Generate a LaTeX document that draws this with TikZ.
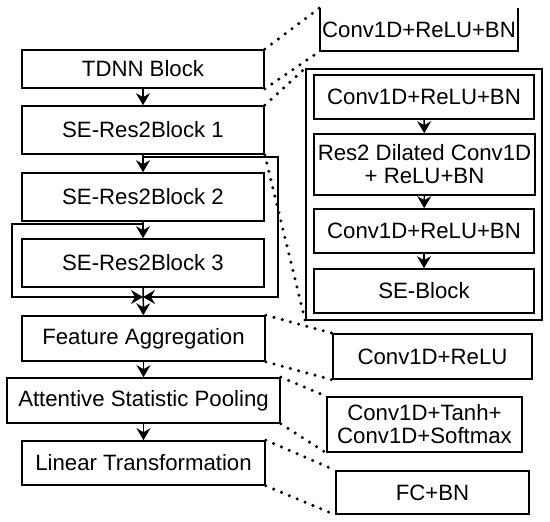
\documentclass[tikz,border=0pt]{standalone}
\usepackage{fontspec}
\setmainfont{Liberation Sans}
\usetikzlibrary{arrows.meta}
\begin{document}
\begin{tikzpicture}[x=1pt,y=-1pt,
  box/.style={draw=black,line width=1.6pt,inner sep=0pt,align=center,
    font=\fontsize{22.2}{26}\selectfont},
  plain/.style={inner sep=0pt,align=center,font=\fontsize{22.2}{26}\selectfont},
  arr/.style={line width=1.5pt,-{Stealth[length=12pt,width=14pt,inset=4pt]}},
  skipline/.style={line width=1.5pt,-{Stealth[length=12pt,width=14pt,inset=4pt]}},
  dots/.style={line width=3.4pt,line cap=round,dash pattern=on 0pt off 8.5pt},
  frame/.style={line width=1.6pt}]
\useasboundingbox (0,0) rectangle (550,522);
% left column
\node[box,minimum width=242pt,minimum height=38pt] (tdnn) at (143,69) {TDNN Block};
\node[box,minimum width=242pt,minimum height=48pt] (b1) at (143,130) {SE-Res2Block 1};
\node[box,minimum width=242pt,minimum height=48pt] (b2) at (143,197) {SE-Res2Block 2};
\node[box,minimum width=242pt,minimum height=48pt] (b3) at (143,263) {SE-Res2Block 3};
\node[box,minimum width=243pt,minimum height=45pt] (fa) at (143.5,338.5) {Feature Aggregation};
\node[box,minimum width=273pt,minimum height=45pt] (asp) at (143.5,400.5) {Attentive Statistic Pooling};
\node[box,minimum width=243pt,minimum height=44pt] (lt) at (143.5,463) {Linear Transformation};
\coordinate (sum) at (143,297);
% right column
\node[plain,minimum width=198pt,minimum height=43pt] (topconv) at (419,29.5) {Conv1D+ReLU+BN};
\draw[frame] (topconv.north west) -- (topconv.south west) -- (topconv.south east) -- (topconv.north east);
\node[box,minimum width=236pt,minimum height=251pt] (outer) at (424,194.5) {};
\node[box,minimum width=220pt,minimum height=44pt] (r1) at (424,97) {Conv1D+ReLU+BN};
\node[box,minimum width=221pt,minimum height=61pt] (r2) at (424.5,164.5) {Res2 Dilated Conv1D\\[-3pt]+ ReLU+BN};
\node[box,minimum width=220pt,minimum height=44pt] (r3) at (424,231) {Conv1D+ReLU+BN};
\node[box,minimum width=220pt,minimum height=44pt] (r4) at (424,291) {SE-Block};
\node[box,minimum width=199pt,minimum height=45pt] (cr) at (432.5,356.5) {Conv1D+ReLU};
\node[box,minimum width=195pt,minimum height=55pt] (ct) at (424.5,424.5) {Conv1D+Tanh+\\[-3pt]Conv1D+Softmax};
\node[box,minimum width=193pt,minimum height=43pt] (fc) at (432.5,492.5) {FC+BN};
% main arrows
\draw[arr] (tdnn) -- (b1);
\draw[arr] (b1) -- (b2);
\draw[arr] (b2) -- (b3);
\draw[arr] (b3) -- (fa);
\draw[arr] (fa) -- (asp);
\draw[arr] (asp) -- (lt);
\draw[arr] (r1) -- (r2);
\draw[arr] (r2) -- (r3);
\draw[arr] (r3) -- (r4);
% skip connections
\draw[skipline] ([yshift=-2pt]b1.south) -- ++(135,0) |- (sum);
\draw[skipline] ([yshift=-2pt]b2.south) -- ++(-131,0) |- (sum);
% dotted links
\draw[dots] (tdnn.north east) -- (topconv.north west);
\draw[dots] (tdnn.south east) -- (topconv.south west);
\draw[dots] (b1.north east) -- (outer.north west);
\draw[dots] (b1.south east) -- (outer.south west);
\draw[dots] (fa.north east) -- (cr.north west);
\draw[dots] (fa.south east) -- (cr.south west);
\draw[dots] (asp.north east) -- (ct.north west);
\draw[dots] (asp.south east) -- (ct.south west);
\draw[dots] (lt.north east) -- (fc.north west);
\draw[dots] (lt.south east) -- (fc.south west);
\end{tikzpicture}
\end{document}
